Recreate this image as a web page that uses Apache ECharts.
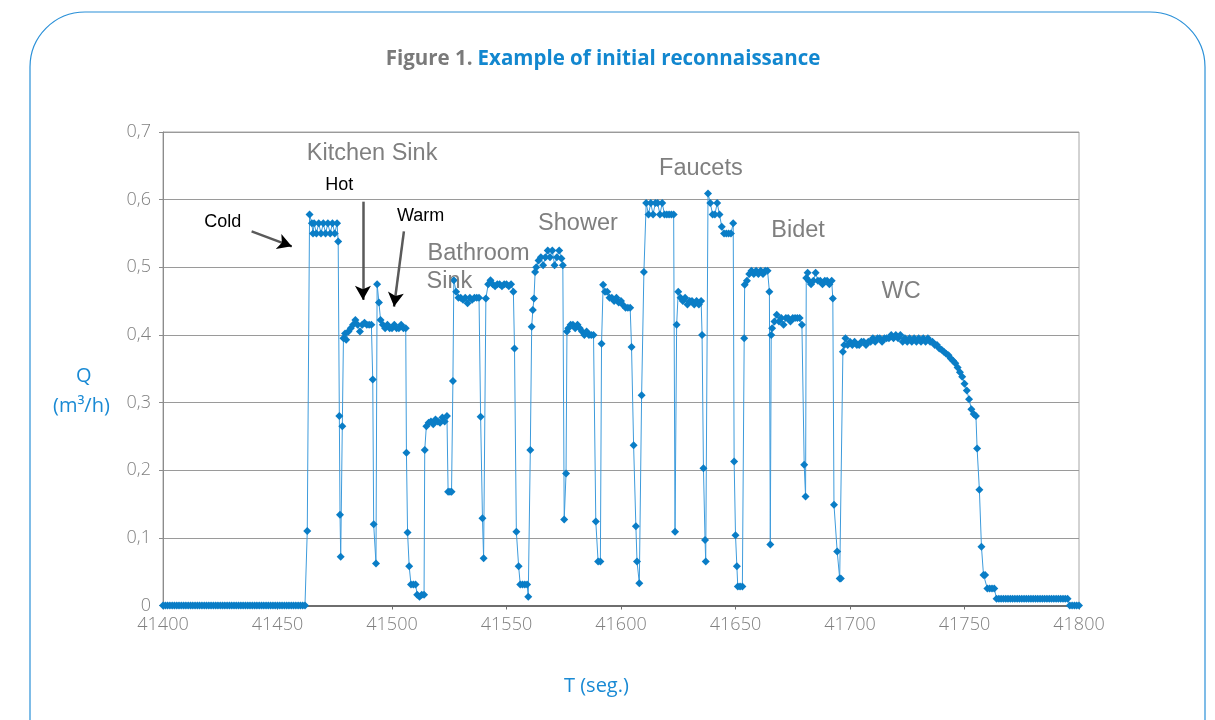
<!DOCTYPE html>
<html>
<head>
<meta charset="utf-8">
<script src="https://cdn.jsdelivr.net/npm/echarts@6/dist/echarts.min.js"></script>
<style>
  html, body { margin: 0; padding: 0; background: #ffffff; }
  #chart { width: 1215px; height: 720px; }
</style>
</head>
<body>
<div id="chart"></div>
<script>
// Flow rate Q (m3/h) against time T (s), one [t, q] pair per reading.
const idleStart = [
  [41400,0],[41401,0],[41402,0],[41403,0],[41404,0],[41405,0],[41406,0],[41407,0],[41408,0],[41409,0],
  [41410,0],[41411,0],[41412,0],[41413,0],[41414,0],[41415,0],[41416,0],[41417,0],[41418,0],[41419,0],
  [41420,0],[41421,0],[41422,0],[41423,0],[41424,0],[41425,0],[41426,0],[41427,0],[41428,0],[41429,0],
  [41430,0],[41431,0],[41432,0],[41433,0],[41434,0],[41435,0],[41436,0],[41437,0],[41438,0],[41439,0],
  [41440,0],[41441,0],[41442,0],[41443,0],[41444,0],[41445,0],[41446,0],[41447,0],[41448,0],[41449,0],
  [41450,0],[41451,0],[41452,0],[41453,0],[41454,0],[41455,0],[41456,0],[41457,0],[41458,0],[41459,0],
  [41460,0],[41461,0],[41462,0]
];
const kitchenSink = [
  [41463,0.110],[41464,0.578],[41465,0.565],[41465.5,0.550],[41466,0.565],[41467,0.550],[41468,0.565],
  [41469,0.550],[41470,0.565],[41471,0.550],[41472,0.565],[41473,0.550],[41474,0.565],[41475,0.550],
  [41476,0.565],[41476.5,0.538],[41477,0.280],[41477.3,0.134],[41477.6,0.072],[41478.3,0.265],
  [41478.8,0.395],[41479.5,0.402],[41480,0.393],[41481,0.405],[41482,0.410],[41483,0.415],[41484,0.422],
  [41485,0.415],[41486,0.405],[41487,0.415],[41488,0.418],[41489,0.415],[41490,0.415],[41491,0.415],
  [41491.6,0.334],[41492,0.120],[41493,0.062],[41493.5,0.475],[41494.3,0.448],[41495,0.422],[41496,0.415],
  [41497,0.410],[41498,0.415],[41499,0.410],[41500,0.410],[41501,0.415],[41502,0.410],[41503,0.410],
  [41504,0.415],[41505,0.410],[41506,0.410],[41506.3,0.226],[41506.8,0.108],[41507.5,0.058],
  [41508.3,0.031],[41509.3,0.031],[41510.3,0.031],[41511,0.016],[41512,0.013],[41513,0.016],[41514,0.016]
];
const bathroomSink = [
  [41514.3,0.230],[41515,0.265],[41516,0.270],[41517,0.272],[41518,0.268],[41519,0.275],[41520,0.272],
  [41521,0.270],[41522,0.278],[41523,0.272],[41524,0.280],[41524.5,0.168],[41525.3,0.168],[41526,0.168],
  [41526.6,0.332],[41527,0.481],[41528,0.464],[41529,0.455],[41530,0.455],[41531,0.452],[41532,0.455],
  [41533,0.447],[41534,0.455],[41535,0.452],[41536,0.455],[41537,0.455],[41538,0.455],[41538.7,0.279],
  [41539.5,0.129],[41540,0.070],[41541,0.454],[41542,0.475],[41543,0.481],[41544,0.475],[41545,0.472],
  [41546,0.475],[41547,0.475],[41548,0.472],[41549,0.475],[41550,0.475],[41551,0.472],[41552,0.475],
  [41553,0.464],[41553.5,0.380],[41554.3,0.109],[41555.3,0.058],[41556,0.031],[41557,0.031],
  [41558,0.031],[41559,0.031],[41559.5,0.013]
];
const shower = [
  [41560.4,0.230],[41561,0.412],[41561.5,0.437],[41562,0.454],[41562.5,0.493],[41563,0.500],[41564,0.510],
  [41565,0.515],[41566,0.503],[41567,0.515],[41568,0.525],[41569,0.515],[41570,0.525],[41571,0.503],
  [41572,0.515],[41573,0.525],[41574,0.513],[41574.6,0.503],[41575.2,0.127],[41576,0.195],
  [41576.4,0.405],[41577,0.410],[41578,0.415],[41579,0.415],[41580,0.410],[41581,0.415],[41582,0.410],
  [41583,0.405],[41584,0.400],[41585,0.405],[41586,0.400],[41587,0.400],[41588,0.400],[41589,0.124],
  [41590,0.065],[41591,0.065],[41591.5,0.387],[41592.2,0.474],[41593,0.464],[41594,0.464],[41595,0.455],
  [41596,0.455],[41597,0.450],[41598,0.455],[41599,0.448],[41600,0.450],[41601,0.444],[41602,0.440],
  [41603,0.440],[41604,0.440],[41604.6,0.382],[41605.5,0.237],[41606.5,0.117],[41607,0.065],[41608,0.033]
];
const faucets = [
  [41609,0.311],[41610,0.493],[41611,0.595],[41612,0.578],[41613,0.595],[41614,0.578],[41615,0.595],
  [41616,0.595],[41617,0.578],[41618,0.595],[41619,0.578],[41620,0.578],[41621,0.578],[41622,0.578],
  [41623,0.578],[41623.6,0.109],[41624.3,0.415],[41625,0.464],[41626,0.455],[41627,0.450],[41628,0.455],
  [41629,0.445],[41630,0.450],[41631,0.450],[41632,0.445],[41633,0.450],[41634,0.445],[41635,0.450],
  [41635.4,0.400],[41636,0.203],[41636.7,0.097],[41637,0.065],[41638,0.609],[41639,0.595],[41640,0.578],
  [41641,0.578],[41642,0.595],[41643,0.578],[41644,0.560],[41645,0.550],[41646,0.550],[41647,0.550],
  [41648,0.550],[41649,0.565],[41649.4,0.213],[41650,0.104],[41650.6,0.058],[41651,0.028],[41652,0.028],
  [41653,0.028]
];
const bidet = [
  [41653.8,0.395],[41654,0.474],[41655,0.480],[41656,0.490],[41657,0.495],[41658,0.490],[41659,0.495],
  [41660,0.490],[41661,0.495],[41662,0.490],[41663,0.495],[41664,0.495],[41664.8,0.464],[41665.2,0.090],
  [41665.6,0.400],[41666,0.410],[41667,0.420],[41668,0.430],[41669,0.420],[41670,0.425],[41671,0.415],
  [41672,0.425],[41673,0.425],[41674,0.420],[41675,0.425],[41676,0.425],[41677,0.425],[41678,0.425],
  [41679,0.415],[41680,0.208],[41680.6,0.161],[41680.9,0.484],[41681.5,0.492],[41682,0.480],[41683,0.475],
  [41684,0.480],[41685,0.492],[41686,0.480],[41687,0.480],[41688,0.475],[41689,0.480],[41690,0.480],
  [41691,0.475],[41692,0.480],[41692.5,0.454],[41693,0.149],[41694.4,0.080],[41695.5,0.040],[41696,0.040]
];
const wc = [
  [41696.9,0.375],[41697.5,0.385],[41698,0.395],[41699,0.385],[41700,0.390],[41701,0.385],[41702,0.390],
  [41703,0.385],[41704,0.385],[41705,0.390],[41706,0.390],[41707,0.385],[41708,0.390],[41709,0.390],
  [41710,0.395],[41711,0.390],[41712,0.395],[41713,0.395],[41714,0.390],[41715,0.395],[41716,0.395],
  [41717,0.395],[41718,0.400],[41719,0.395],[41720,0.400],[41721,0.395],[41722,0.400],[41723,0.390],
  [41724,0.395],[41725,0.390],[41726,0.395],[41727,0.390],[41728,0.395],[41729,0.390],[41730,0.395],
  [41731,0.390],[41732,0.395],[41733,0.390],[41734,0.395],[41735,0.390],[41736,0.390],[41737,0.385],
  [41738,0.385],[41739,0.380],[41740,0.378],[41741,0.375],[41742,0.372],[41743,0.370],[41744,0.365],
  [41745,0.362],[41746,0.358],[41747,0.352],[41748,0.345],[41749,0.338],[41750,0.328],[41751,0.318],
  [41752,0.305],[41753,0.290],[41754,0.283],[41755,0.280],[41755.5,0.232],[41756.5,0.171],[41757.4,0.087],
  [41758.3,0.045],[41759,0.045],[41760,0.025],[41761,0.025],[41762,0.025],[41763,0.025]
];
const idleEnd = [
  [41764,0.010],[41765,0.010],[41766,0.010],[41767,0.010],[41768,0.010],[41769,0.010],[41770,0.010],
  [41771,0.010],[41772,0.010],[41773,0.010],[41774,0.010],[41775,0.010],[41776,0.010],[41777,0.010],
  [41778,0.010],[41779,0.010],[41780,0.010],[41781,0.010],[41782,0.010],[41783,0.010],[41784,0.010],
  [41785,0.010],[41786,0.010],[41787,0.010],[41788,0.010],[41789,0.010],[41790,0.010],[41791,0.010],
  [41792,0.010],[41793,0.010],[41794,0.010],[41795,0.010],[41796,0],[41797,0],[41798,0],[41799,0],[41800,0]
];

// Appliance names placed at [t, q]
const applianceLabels = [
  ['Kitchen Sink', 41491.3, 0.668],
  ['Faucets', 41634.9, 0.646],
  ['Shower', 41581.2, 0.565],
  ['Bathroom', 41537.8, 0.521],
  ['Sink', 41525.1, 0.479],
  ['Bidet', 41677.3, 0.554],
  ['WC', 41722.3, 0.464]
];
// Tap temperature notes with their arrows: [text, tx, tq, fromT, fromQ, toT, toQ]
const tapNotes = [
  ['Cold', 41426.1, 0.567, 41438.7, 0.553, 41456.2, 0.531],
  ['Hot', 41477.0, 0.622, 41487.3, 0.597, 41487.3, 0.452],
  ['Warm', 41512.5, 0.576, 41505.2, 0.553, 41500.9, 0.442]
];

const flow = [].concat(idleStart, kitchenSink, bathroomSink, shower, faucets, bidet, wc, idleEnd);

const chart = echarts.init(document.getElementById('chart'), null, { renderer: 'canvas' });

const markPoints = applianceLabels.map(([name, t, q]) => ({
  name, coord: [t, q], symbolSize: 0,
  label: { show: true, position: 'inside', formatter: name, color: '#7f7f7f',
           fontFamily: 'Liberation Sans, Arial, sans-serif', fontSize: 23.5 }
})).concat(tapNotes.map(([name, t, q]) => ({
  name, coord: [t, q], symbolSize: 0,
  label: { show: true, position: 'inside', formatter: name, color: '#000000',
           fontFamily: 'Liberation Sans, Arial, sans-serif', fontSize: 18 }
})));

// Grey shaft for each arrow, then a short black piece carrying the head
const markLines = [];
tapNotes.forEach(n => {
  const [, , , t0, q0, t1, q1] = n;
  const f = 0.93;
  markLines.push([
    { coord: [t0, q0], symbol: 'none' },
    { coord: [t1, q1], symbol: 'none' }
  ]);
  markLines.push([
    { coord: [t0 + (t1 - t0) * f, q0 + (q1 - q0) * f], symbol: 'none',
      lineStyle: { color: '#000000', width: 1 } },
    { coord: [t1, q1], symbol: 'arrow', symbolSize: [12, 14] }
  ]);
});

chart.setOption({
  animation: false,
  title: {
    text: '{a|Figure 1.} {b|Example of initial reconnaissance}',
    left: 598, top: 44, textAlign: 'center',
    textStyle: {
      rich: {
        a: { fontFamily: 'Open Sans', fontWeight: 'bold', fontSize: 20.5, color: '#7a7a7a' },
        b: { fontFamily: 'Open Sans', fontWeight: 'bold', fontSize: 20.5, color: '#1287cf' }
      }
    }
  },
  graphic: [
    { type: 'rect', z: -10, silent: true,
      shape: { x: 30, y: 12, width: 1175, height: 780, r: 55 },
      style: { fill: 'none', stroke: '#2a90d8', lineWidth: 1.2 } },
    { type: 'text', left: 76, top: 366,
      style: { text: 'Q', fill: '#1a8ad4', font: '20px "Open Sans"' } },
    { type: 'text', left: 53, top: 396,
      style: { text: '(m³/h)', fill: '#1a8ad4', font: '20px "Open Sans"' } },
    { type: 'text', left: 564, top: 676,
      style: { text: 'T (seg.)', fill: '#1a8ad4', font: '20px "Open Sans"' } }
  ],
  grid: {
    left: 163, right: 136, top: 132, bottom: 114.5,
    show: true, borderColor: '#a6a6a6', borderWidth: 1
  },
  xAxis: {
    type: 'value', min: 41400, max: 41800, interval: 50,
    axisLine: { show: true, onZero: false, lineStyle: { color: '#6e6e6e', width: 2 } },
    axisTick: { show: true, length: 4, lineStyle: { color: '#6e6e6e' } },
    axisLabel: { color: '#808080', fontFamily: 'Open Sans', fontWeight: 300, fontSize: 18, margin: 10,
                 formatter: v => String(v) },
    splitLine: { show: false }
  },
  yAxis: {
    type: 'value', min: 0, max: 0.7, interval: 0.1,
    axisLine: { show: true, lineStyle: { color: '#8c8c8c', width: 1 } },
    axisTick: { show: true, length: 4, lineStyle: { color: '#8c8c8c' } },
    axisLabel: {
      color: '#808080', fontFamily: 'Open Sans', fontWeight: 300, fontSize: 18, margin: 12,
      formatter: v => (v === 0 ? '0' : v.toFixed(1).replace('.', ','))
    },
    splitLine: { show: true, lineStyle: { color: '#9a9a9a', width: 1 } }
  },
  series: [{
    type: 'line',
    data: flow,
    clip: false,
    symbol: 'diamond',
    symbolSize: 8,
    showAllSymbol: true,
    itemStyle: { color: '#0a7dc6' },
    lineStyle: { color: '#3d9bdc', width: 1 },
    markPoint: { symbol: 'circle', data: markPoints, animation: false },
    markLine: {
      silent: true, animation: false,
      label: { show: false },
      lineStyle: { color: '#5a5a5a', width: 2.5, type: 'solid' },
      emphasis: { disabled: true },
      data: markLines
    }
  }]
});
</script>
</body>
</html>
